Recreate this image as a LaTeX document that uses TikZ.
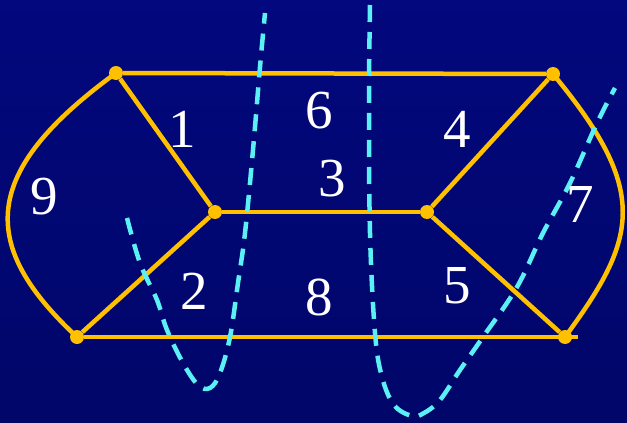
\documentclass[tikz,border=0pt]{standalone}
\usepackage{fontspec}
\setmainfont{Liberation Serif}
\usepackage{xcolor}
\usetikzlibrary{positioning}
\definecolor{bgtop}{RGB}{2,8,125}
\definecolor{bgmid}{RGB}{4,12,150}
\definecolor{bgbot}{RGB}{1,6,105}
\definecolor{edgeyel}{RGB}{255,192,0}
\definecolor{cutcyan}{RGB}{90,240,245}

\begin{document}
\begin{tikzpicture}[
      x=1pt, y=-1pt,
      every node/.style={font=\fontsize{55}{60}\selectfont, text=white},
      vtx/.style={circle, fill=edgeyel, inner sep=0pt, minimum size=14pt},
      edge/.style={draw=edgeyel, line width=4.5pt},
      cut/.style={draw=cutcyan, line width=4.5pt, dash pattern=on 17pt off 10pt},
      lbl/.style={inner sep=0pt},
    ]
    %% Background
    \shade[top color=bgtop, middle color=bgmid, bottom color=bgbot]
      (0,0) rectangle (627,423);
    \useasboundingbox (0,0) rectangle (627,423);

    %% Vertices
    \node[vtx] (tl) at (116,73)  {};
    \node[vtx] (tr) at (553,74)  {};
    \node[vtx] (ml) at (215,212) {};
    \node[vtx] (mr) at (427,212) {};
    \node[vtx] (bl) at (77,337)  {};
    \node[vtx] (br) at (565,337) {};
    \coordinate (brend) at (578,337);

    %% Edges
    \draw[edge] (tl) -- (tr);
    \draw[edge] (tl) -- (ml);
    \draw[edge] (tr) -- (mr);
    \draw[edge] (ml) -- (mr);
    \draw[edge] (ml) -- (bl);
    \draw[edge] (mr) -- (br);
    \draw[edge] (bl) -- (brend);
    \draw[edge] (tl.center) .. controls (-20,172) and (-22,245) .. (bl.center);
    \draw[edge] (tr.center) .. controls (650,191) and (638,238) .. (br.center);

    %% Cut lines
    \draw[cut] plot[smooth, tension=0.6] coordinates {(127,218) (140,263) (157,300)
      (167,330) (183,363) (198,385) (210,388) (220,373) (230,337) (238,283)
      (245,233) (253,150) (260,67) (265,13)};
    \draw[cut] plot[smooth, tension=0.6] coordinates {(370,5) (369,100) (370,233)
      (375,333) (382,377) (394,405) (412,416) (424,413) (440,400) (460,370)
      (483,337) (517,287) (543,233) (570,183) (597,123) (615,88)};

    %% Edge labels
    \node[lbl] (n1) at (182,129) {1};
    \node[lbl] (n2) at (194,291) {2};
    \node[lbl] (n3) at (332,179) {3};
    \node[lbl] (n4) at (457,129) {4};
    \node[lbl] (n5) at (457,286) {5};
    \node[lbl] (n6) at (319,111) {6};
    \node[lbl] (n7) at (580,204) {7};
    \node[lbl] (n8) at (319,297) {8};
    \node[lbl] (n9) at (44,197)  {9};
  \end{tikzpicture}
\end{document}
